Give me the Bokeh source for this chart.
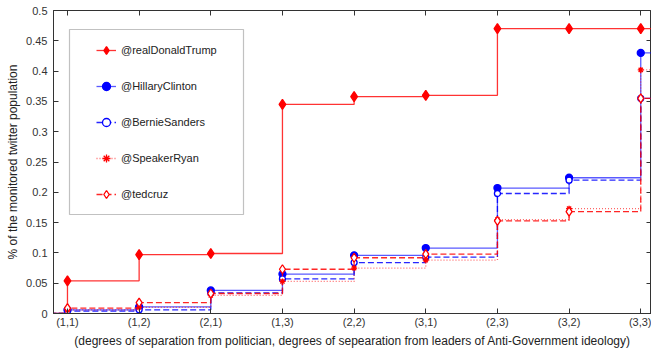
from bokeh.plotting import figure
from bokeh.models import (FixedTicker, LinearAxis, Range1d, CustomJSTickFormatter,
                          Legend, LegendItem, BoxAnnotation, ColumnDataSource,
                          CustomLabelingPolicy)
from bokeh.embed import file_html
from bokeh.resources import INLINE

categories = ["(1,1)", "(1,2)", "(2,1)", "(1,3)", "(2,2)", "(3,1)", "(2,3)", "(3,2)", "(3,3)"]
positions = [1, 2, 3, 4, 5, 6, 7, 8, 9]
trump = [0.054, 0.097, 0.099, 0.345, 0.358, 0.360, 0.470, 0.470, 0.470]
hillary = [0.006, 0.011, 0.038, 0.065, 0.096, 0.108, 0.207, 0.224, 0.430]
bernie = [0.004, 0.006, 0.034, 0.057, 0.084, 0.093, 0.198, 0.220, 0.355]
ryan = [0.006, 0.010, 0.030, 0.053, 0.075, 0.088, 0.155, 0.173, 0.402]
cruz = [0.009, 0.018, 0.033, 0.073, 0.092, 0.098, 0.153, 0.168, 0.355]
y_ticks = [0, 0.05, 0.1, 0.15, 0.2, 0.25, 0.3, 0.35, 0.4, 0.45, 0.5]

FONT = "Liberation Sans"
X_START, X_END = 0.805, 9.15
Y_START, Y_END = 0, 0.5

p = figure(width=651, height=351, output_backend="svg", toolbar_location=None,
           x_range=Range1d(X_START, X_END), y_range=Range1d(Y_START, Y_END),
           min_border_left=53, min_border_right=0, min_border_top=10, min_border_bottom=38)
p.xgrid.visible = False
p.ygrid.visible = False
p.outline_line_color = "#333333"
p.background_fill_color = "white"
p.border_fill_color = "white"

series = [
    ("@realDonaldTrump", trump, "#ff0000", "solid", "diamond", 10, True, 0.8),
    ("@HillaryClinton", hillary, "#0000ff", "solid", "circle", 7, True, 0.65),
    ("@BernieSanders", bernie, "#0000ff", "6 3", "circle", 6, False, 0.85),
    ("@SpeakerRyan", ryan, "#ff0000", "1 2", "asterisk", 6, True, 0.6),
    ("@tedcruz", cruz, "#ff0000", "6 3", "diamond", 9, False, 0.85),
]

items = []
for name, vals, color, dash, marker, size, filled, alpha in series:
    xs = [0] + positions + [positions[-1] + 1]
    ys = [0] + vals + [vals[-1]]
    src = ColumnDataSource(dict(x=xs, y=ys))
    ln = p.step("x", "y", source=src, mode="after", line_color=color, line_width=1.3,
                line_dash=dash, line_alpha=alpha)
    msrc = ColumnDataSource(dict(x=positions, y=vals))
    sc = p.scatter("x", "y", source=msrc, marker=marker, size=size, line_color=color,
                   fill_color=color if filled else "white", line_width=1.3)
    items.append(LegendItem(label=name, renderers=[ln, sc]))

box = BoxAnnotation(left=16, right=190, bottom=99, top=284,
                    left_units="screen", right_units="screen",
                    top_units="screen", bottom_units="screen",
                    fill_color="white", fill_alpha=1.0, line_color="#333333", line_width=1.2)
p.add_layout(box)

legend = Legend(items=items, location=(38, 104), padding=5, spacing=16,
                glyph_width=20, glyph_height=20, label_height=20, label_standoff=5,
                border_line_alpha=0, background_fill_alpha=0,
                label_text_font=FONT, label_text_font_size="11px", label_text_color="#222222")
p.add_layout(legend, "center")

# bottom axis
xa = p.xaxis[0]
xa.ticker = FixedTicker(ticks=positions)
xa.major_label_overrides = {pos: lab for pos, lab in zip(positions, categories)}
xa.minor_tick_line_color = None
xa.major_tick_in = 5
xa.major_tick_out = 0
xa.major_label_standoff = 2
xa.axis_label = "(degrees of separation from politician, degrees of sepearation from leaders of Anti-Government ideology)"
xa.axis_label_standoff = 3
xa.axis_label_text_font = FONT
xa.axis_label_text_font_style = "normal"
xa.axis_label_text_font_size = "12px"
xa.axis_label_text_color = "#222222"
xa.major_label_text_font = FONT
xa.major_label_text_font_size = "11px"
xa.major_label_text_color = "#333333"
xa.axis_line_color = "#333333"
xa.major_tick_line_color = "#333333"

# left axis
ya = p.yaxis[0]
ya.ticker = FixedTicker(ticks=y_ticks)
ya.formatter = CustomJSTickFormatter(code="return String(Math.round(tick*100)/100);")
ya.minor_tick_line_color = None
ya.major_tick_in = 5
ya.major_tick_out = 0
ya.major_label_standoff = 6
ya.axis_label = "% of the monitored twitter population"
ya.axis_label_standoff = 3
ya.axis_label_text_font = FONT
ya.axis_label_text_font_style = "normal"
ya.axis_label_text_font_size = "12px"
ya.axis_label_text_color = "#222222"
ya.major_label_text_font = FONT
ya.major_label_text_font_size = "11px"
ya.major_label_text_color = "#333333"
ya.axis_line_color = "#333333"
ya.major_tick_line_color = "#333333"

no_labels = CustomLabelingPolicy(code="return new Set()")

# top axis (ticks only), pinned to the frame edge
ta = LinearAxis(ticker=FixedTicker(ticks=positions), major_label_policy=no_labels,
                major_label_text_font_size="1px", fixed_location=Y_END,
                major_tick_in=5, major_tick_out=0, minor_tick_line_color=None,
                major_label_standoff=0, axis_line_color="#333333",
                major_tick_line_color="#333333")
p.add_layout(ta, "above")

# right axis (ticks only), pinned to the frame edge
ra = LinearAxis(ticker=FixedTicker(ticks=y_ticks), major_label_policy=no_labels,
                major_label_text_font_size="1px", fixed_location=X_END,
                major_tick_in=5, major_tick_out=0, minor_tick_line_color=None,
                major_label_standoff=0, axis_line_color="#333333",
                major_tick_line_color="#333333")
p.add_layout(ra, "right")

open("out.html", "w").write(file_html(p, INLINE))
